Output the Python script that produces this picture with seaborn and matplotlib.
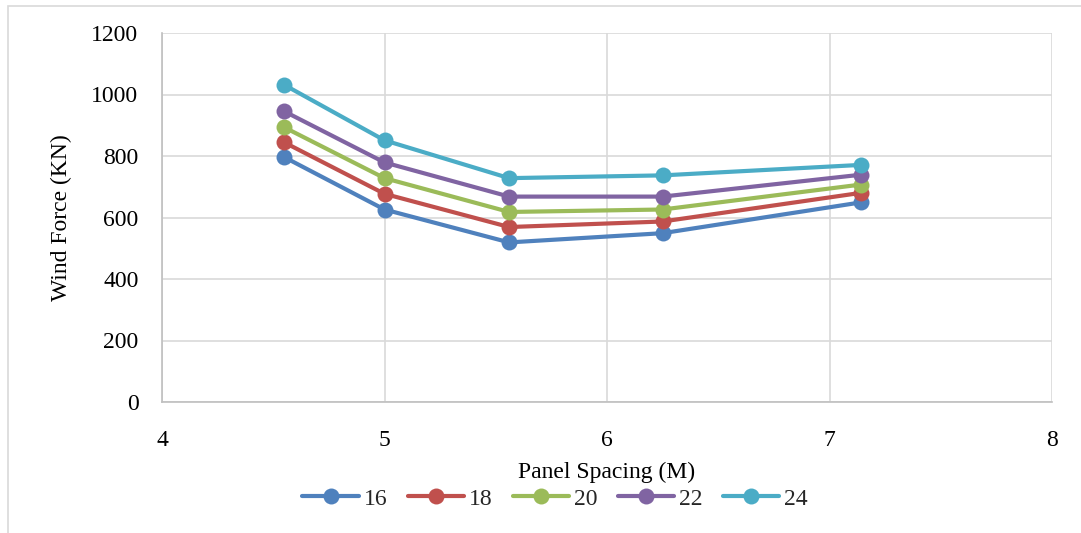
import matplotlib
matplotlib.use("Agg")
import matplotlib.pyplot as plt
import seaborn as sns
import pandas as pd
from matplotlib.patches import Rectangle

# Panel spacing (M) and wind force (KN) for each tower height
spacing = [4.55, 5.0, 5.56, 6.25, 7.14]
heights = ["16", "18", "20", "22", "24"]
force_16 = [796, 626, 519, 549, 649]
force_18 = [844, 677, 569, 587, 680]
force_20 = [893, 728, 618, 626, 707]
force_22 = [945, 779, 668, 668, 739]
force_24 = [1031, 851, 728, 737, 771]
colors = ["#4F81BD", "#C0504D", "#9BBB59", "#8064A2", "#4BACC6"]

series = [force_16, force_18, force_20, force_22, force_24]
rows = []
for h, vals in zip(heights, series):
    for x, y in zip(spacing, vals):
        rows.append({"Panel Spacing (M)": x, "Wind Force (KN)": y, "Height": h})
df = pd.DataFrame(rows)

sns.set_theme(style="white")
plt.rcParams["font.family"] = ["Liberation Serif", "DejaVu Serif"]

FS = 17

fig = plt.figure(figsize=(10.81, 5.33), dpi=100)
ax = fig.add_axes([162 / 1081, 1 - 402 / 533, (1052 - 162) / 1081, (402 - 33) / 533])

# Outer chart frame
fig.patches.append(Rectangle((8 / 1081, -0.05), 1.1, 1 - 6 / 533 + 0.05,
                             transform=fig.transFigure, fill=False,
                             edgecolor="#d9d9d9", linewidth=1.2, zorder=0))

sns.lineplot(data=df, x="Panel Spacing (M)", y="Wind Force (KN)", hue="Height",
             hue_order=heights, palette=colors, marker="o", markersize=11.5,
             markeredgewidth=0, linewidth=3, ax=ax, legend=True)

ax.set_xlim(4, 8)
ax.set_ylim(0, 1200)
ax.set_xticks([4, 5, 6, 7, 8])
ax.set_yticks(range(0, 1201, 200))
ax.grid(True, color="#d9d9d9", linewidth=1.2)
ax.set_axisbelow(True)
for side in ["top", "right"]:
    ax.spines[side].set_visible(False)
for side in ["left", "bottom"]:
    ax.spines[side].set_color("#bfbfbf")
    ax.spines[side].set_linewidth(1.2)

ax.tick_params(axis="y", length=0, pad=17, labelsize=FS, labelcolor="black")
ax.tick_params(axis="x", length=0, pad=20, labelsize=FS, labelcolor="black")
ax.set_xlabel("Panel Spacing (M)", fontsize=FS, color="black", labelpad=8)
ax.set_ylabel("Wind Force (KN)", fontsize=FS, color="black", labelpad=14)

handles, labels = ax.get_legend_handles_labels()
ax.legend(handles, labels, loc="center", bbox_to_anchor=(555 / 1081, 1 - 499 / 533),
          bbox_transform=fig.transFigure, ncol=5, frameon=False, fontsize=FS,
          handlelength=2.4, handletextpad=0.2, columnspacing=0.85,
          borderaxespad=0, borderpad=0)

fig.savefig("out.png", dpi=100, facecolor="white")
